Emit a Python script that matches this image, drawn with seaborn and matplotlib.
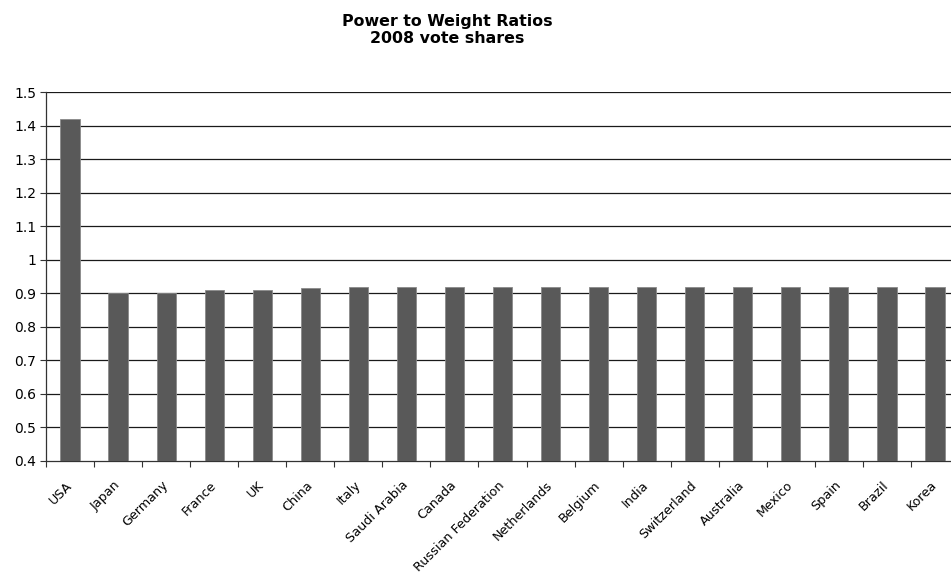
import numpy as np
import pandas as pd
import matplotlib
matplotlib.use("Agg")
import matplotlib.pyplot as plt
import seaborn as sns

# ── chart data ────────────────────────────────────────────────
countries = ["USA", "Japan", "Germany", "France", "UK", "China", "Italy",
             "Saudi Arabia", "Canada", "Russian Federation", "Netherlands",
             "Belgium", "India", "Switzerland", "Australia", "Mexico",
             "Spain", "Brazil", "Korea"]
ratios = [1.42, 0.90, 0.90, 0.91, 0.91, 0.915, 0.92, 0.92, 0.92, 0.92,
          0.92, 0.92, 0.92, 0.92, 0.92, 0.92, 0.92, 0.92, 0.92]
y_ticks = [0.4, 0.5, 0.6, 0.7, 0.8, 0.9, 1.0, 1.1, 1.2, 1.3, 1.4, 1.5]
y_labels = ["0.4", "0.5", "0.6", "0.7", "0.8", "0.9", "1", "1.1", "1.2", "1.3", "1.4", "1.5"]

df = pd.DataFrame({"country": countries, "ratio": ratios})

sns.set_theme(style="white")
plt.rcParams["font.family"] = ["DejaVu Sans"]
plt.rcParams["text.color"] = "black"
plt.rcParams["xtick.color"] = "black"
plt.rcParams["ytick.color"] = "black"

W, H = 951, 576
fig = plt.figure(figsize=(W / 100, H / 100), dpi=100)
# axis runs past the right edge, like the cropped original
ax = fig.add_axes([46 / W, (H - 461) / H, (959 - 46) / W, (461 - 92) / H])

sns.barplot(data=df, x="country", y="ratio", color="#595959", width=0.4,
            edgecolor="#8a8a8a", linewidth=0.6, saturation=1, ax=ax, zorder=3)

ax.set_ylim(0.4, 1.5)
ax.set_xlim(-0.5, len(countries) - 0.5)
ax.set_yticks(y_ticks)
ax.set_yticklabels(y_labels, fontsize=10)
for yv in y_ticks[1:]:
    ax.axhline(yv, color="#1a1a1a", lw=0.9, zorder=1)

# labels under bars, tick marks on the category boundaries
ax.set_xticks(range(len(countries)))
ax.set_xticklabels(countries, rotation=45, ha="right", va="center",
                   rotation_mode="anchor", fontsize=9.2)
ax.tick_params(axis="x", which="major", length=0, pad=16)
ax.set_xticks(np.arange(-0.5, len(countries), 1.0), minor=True)
ax.tick_params(axis="x", which="minor", length=4, width=0.8, color="#333333", direction="out", bottom=True)
ax.tick_params(axis="y", length=4, width=0.8, color="#333333", direction="out", left=True, pad=3)
ax.set_xlabel("")
ax.set_ylabel("")

for side in ["top", "right"]:
    ax.spines[side].set_visible(False)
for side in ["left", "bottom"]:
    ax.spines[side].set_color("#333333")
    ax.spines[side].set_linewidth(0.9)

fig.text(447 / W, 1 - 30 / H, "Power to Weight Ratios\n2008 vote shares",
         ha="center", va="center", fontsize=11.4, fontweight="bold",
         linespacing=1.2, color="black")

fig.savefig("out.png", dpi=100)
